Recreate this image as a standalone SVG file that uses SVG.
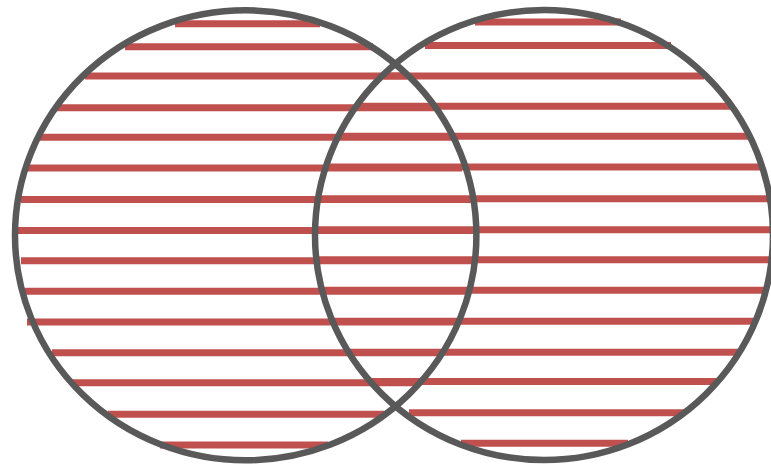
<svg xmlns="http://www.w3.org/2000/svg" width="771" height="466" viewBox="0 0 771 466">
  <style>
    .hatch line { stroke: #c0504d; stroke-width: 7; stroke-linecap: butt; }
    .ring { fill: none; stroke: #595959; stroke-width: 6.5; }
  </style>
  <rect width="771" height="466" fill="#ffffff"/>
  <g id="hatch-left" class="hatch">
    <line x1="175" y1="23.7" x2="320" y2="23.7"/>
    <line x1="125" y1="46.7" x2="373" y2="46.7"/>
    <line x1="85" y1="76" x2="407" y2="76"/>
    <line x1="57" y1="107.7" x2="434" y2="107.7"/>
    <line x1="40" y1="137.3" x2="452" y2="137.3"/>
    <line x1="28" y1="168" x2="462" y2="168"/>
    <line x1="21" y1="199.5" x2="471" y2="199.5"/>
    <line x1="18" y1="230.5" x2="474" y2="230.5"/>
    <line x1="21" y1="260.7" x2="473" y2="260.7"/>
    <line x1="25" y1="291.3" x2="467" y2="291.3"/>
    <line x1="27" y1="322" x2="457" y2="322"/>
    <line x1="52" y1="352.7" x2="441" y2="352.7"/>
    <line x1="72" y1="382.7" x2="418" y2="382.7"/>
    <line x1="108" y1="414.3" x2="384" y2="414.3"/>
    <line x1="160" y1="445" x2="328" y2="445"/>
  </g>
  <g id="hatch-right" class="hatch">
    <line x1="475" y1="22" x2="621" y2="22"/>
    <line x1="425" y1="45.5" x2="671" y2="45.5"/>
    <line x1="384" y1="76" x2="704" y2="76"/>
    <line x1="358" y1="106.3" x2="733" y2="106.3"/>
    <line x1="340" y1="136.3" x2="751" y2="136.3"/>
    <line x1="327" y1="167" x2="761" y2="167"/>
    <line x1="320" y1="198.8" x2="769" y2="198.8"/>
    <line x1="318" y1="229.7" x2="771" y2="229.7"/>
    <line x1="319" y1="259.7" x2="769" y2="259.7"/>
    <line x1="324" y1="290.3" x2="764" y2="290.3"/>
    <line x1="334" y1="321.3" x2="754" y2="321.3"/>
    <line x1="350" y1="352.2" x2="739" y2="352.2"/>
    <line x1="372" y1="381.5" x2="716" y2="381.5"/>
    <line x1="409" y1="412.7" x2="684" y2="412.7"/>
    <line x1="461" y1="443.2" x2="628" y2="443.2"/>
  </g>
  <g id="set-left">
    <ellipse class="ring" cx="245.7" cy="235.3" rx="230.7" ry="225"/>
  </g>
  <g id="set-right">
    <ellipse class="ring" cx="544" cy="235" rx="229" ry="225"/>
  </g>
</svg>
